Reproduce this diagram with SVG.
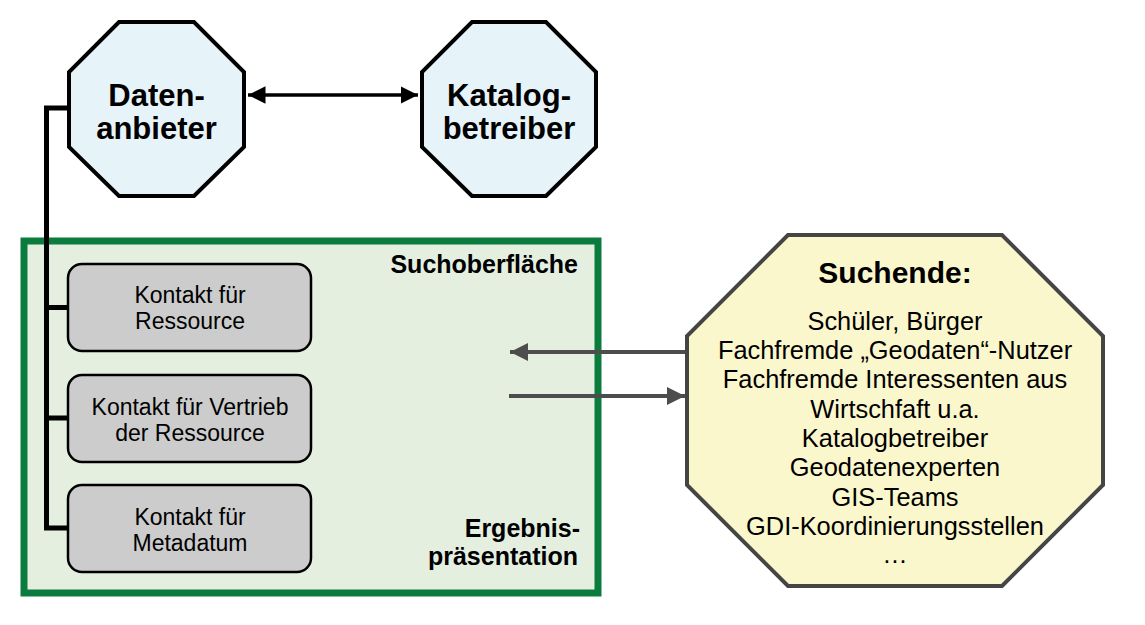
<svg xmlns="http://www.w3.org/2000/svg" width="1145" height="625" viewBox="0 0 1145 625">
<defs>
<style>
text{font-family:"Liberation Sans",Arial,sans-serif;fill:#000;}
.oct{fill:#e6f3f8;stroke:#000;stroke-width:4;stroke-linejoin:miter;}
.big{font-weight:bold;font-size:31px;text-anchor:middle;}
.box{fill:#cccccc;stroke:#000;stroke-width:2.5;}
.bt{font-size:23px;text-anchor:middle;}
.lbl{font-weight:bold;font-size:25px;text-anchor:end;}
.st{font-size:25.4px;text-anchor:middle;}
.tree{fill:none;stroke:#000;stroke-width:5;}
.garr{stroke:#4d4d4d;stroke-width:4;fill:none;}
</style>
<marker id="ab" viewBox="0 0 10 10" refX="10" refY="5" markerWidth="5" markerHeight="5" orient="auto-start-reverse" markerUnits="strokeWidth">
<path d="M0,0 L10,5 L0,10 z" fill="#000"/>
</marker>
<marker id="ag" viewBox="0 0 10 10" refX="10" refY="5" markerWidth="4.5" markerHeight="4.5" orient="auto" markerUnits="strokeWidth">
<path d="M0,0 L10,5 L0,10 z" fill="#4d4d4d"/>
</marker>
</defs>
<rect width="1145" height="625" fill="#fff"/>

<g id="suchoberflaeche">
<rect x="24" y="241" width="574" height="352" fill="#e4efe0" stroke="#0b7b3e" stroke-width="7"/>
<text class="lbl" x="578" y="273">Suchoberfläche</text>
<text class="lbl" x="580" y="537">Ergebnis-</text>
<text class="lbl" x="578" y="565">präsentation</text>
</g>

<g id="connectors">
<path class="tree" d="M67,108 H46.5 V528 H68 M46.5,307.5 H68 M46.5,418 H68"/>
<line x1="248" y1="95" x2="418" y2="95" stroke="#000" stroke-width="3.5" marker-start="url(#ab)" marker-end="url(#ab)"/>
<line class="garr" x1="685" y1="352" x2="510" y2="352" marker-end="url(#ag)"/>
<line class="garr" x1="509" y1="396" x2="685" y2="396" marker-end="url(#ag)"/>
</g>

<g id="datenanbieter">
<polygon class="oct" points="119,22 194,22 244,72 244,147 194,196 119,196 69,147 69,72"/>
<text class="big" x="156.5" y="106">Daten-</text>
<text class="big" x="156.5" y="139">anbieter</text>
</g>

<g id="katalogbetreiber">
<polygon class="oct" points="472,22 546,22 596,72 596,147 546,196 472,196 422,147 422,72"/>
<text class="big" x="509" y="106">Katalog-</text>
<text class="big" x="509" y="139">betreiber</text>
</g>

<g id="kontakt-ressource">
<rect class="box" x="68" y="264" width="243" height="87" rx="14"/>
<text class="bt" x="190" y="303">Kontakt für</text>
<text class="bt" x="190" y="329">Ressource</text>
</g>
<g id="kontakt-vertrieb">
<rect class="box" x="68" y="375" width="243" height="87" rx="14"/>
<text class="bt" x="190" y="415">Kontakt für Vertrieb</text>
<text class="bt" x="190" y="441">der Ressource</text>
</g>
<g id="kontakt-metadatum">
<rect class="box" x="68" y="485" width="243" height="87" rx="14"/>
<text class="bt" x="190" y="525">Kontakt für</text>
<text class="bt" x="190" y="551">Metadatum</text>
</g>

<g id="suchende">
<polygon points="788,235 1002,235 1103,336 1103,485 1002,586 788,586 687,485 687,336" fill="#fbf7cd" stroke="#454545" stroke-width="4"/>
<text x="895" y="283" text-anchor="middle" font-weight="bold" font-size="30">Suchende:</text>
<text class="st" x="895" y="330">Schüler, Bürger</text>
<text class="st" x="895" y="359">Fachfremde „Geodaten“-Nutzer</text>
<text class="st" x="895" y="388">Fachfremde Interessenten aus</text>
<text class="st" x="895" y="418">Wirtschfaft u.a.</text>
<text class="st" x="895" y="447">Katalogbetreiber</text>
<text class="st" x="895" y="476">Geodatenexperten</text>
<text class="st" x="895" y="506">GIS-Teams</text>
<text class="st" x="895" y="535">GDI-Koordinierungsstellen</text>
<text class="st" x="895" y="563">…</text>
</g>
</svg>
